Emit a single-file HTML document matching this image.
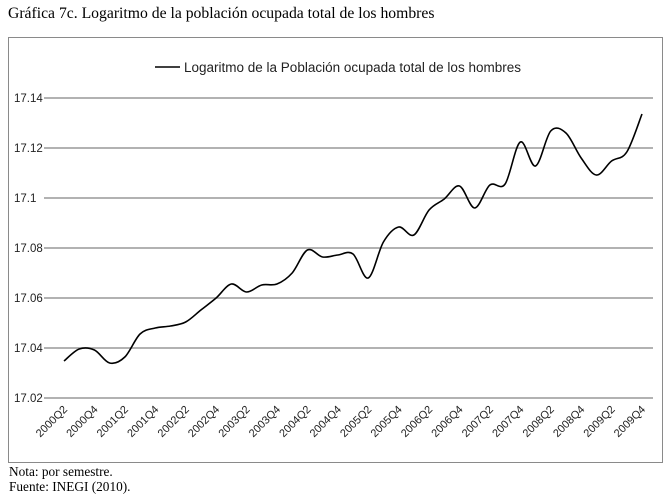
<!DOCTYPE html>
<html><head><meta charset="utf-8"><style>
body{margin:0;background:#fff;width:671px;height:500px;overflow:hidden;font-family:"Liberation Sans",sans-serif}
.t{position:absolute;font-family:"Liberation Serif",serif;color:#000}
</style></head><body>
<div class="t" style="left:8px;top:5px;font-size:15.7px">Gráfica 7c. Logaritmo de la población ocupada total de los hombres</div>
<svg width="671" height="500" style="position:absolute;left:0;top:0" id="chart">
<rect x="8.5" y="37.5" width="654" height="425" fill="none" stroke="#8a8a8a"/>
<g id="grid"></g><g id="xl"></g>
<line x1="155" y1="67" x2="180" y2="67" stroke="#000" stroke-width="1.5"/>
<text x="184" y="72" font-size="13.5" fill="#222">Logaritmo de la Población ocupada total de los hombres</text>
<path id="line" fill="none" stroke="#000" stroke-width="1.6"/>
</svg>
<div class="t" style="left:9px;top:464px;font-size:13.3px;line-height:15px">Nota: por semestre.<br>Fuente: INEGI (2010).</div>
<script>
const values=[17.0348,17.0396,17.0392,17.034,17.0364,17.0456,17.048,17.0488,17.0504,17.0552,17.06,17.0656,17.0624,17.0652,17.0656,17.07,17.0792,17.0764,17.0772,17.0776,17.068,17.0824,17.0884,17.0852,17.0952,17.0996,17.1048,17.096,17.1052,17.1056,17.1224,17.1128,17.1268,17.126,17.116,17.1092,17.1148,17.1184,17.1336];
const startYear=2000,startQ=2;
const yTicks=[17.02,17.04,17.06,17.08,17.1,17.12,17.14];
const yTickLabels=["17.02","17.04","17.06","17.08","17.1","17.12","17.14"];
const NS="http://www.w3.org/2000/svg";
const x=i=>64+i*(642-64)/(values.length-1);
const y=v=>398-(v-17.02)/0.12*300;
const grid=document.getElementById('grid');
yTicks.forEach((t,k)=>{
 const l=document.createElementNS(NS,'line');
 l.setAttribute('x1',44);l.setAttribute('x2',653);l.setAttribute('y1',y(t));l.setAttribute('y2',y(t));
 l.setAttribute('stroke','#999');l.setAttribute('stroke-width','1.5');
 
 
 grid.appendChild(l);
 const tx=document.createElementNS(NS,'text');
 tx.setAttribute('x',14);tx.setAttribute('y',y(t)+4);tx.setAttribute('font-size','11.5');tx.setAttribute('fill','#222');
 tx.textContent=yTickLabels[k];
 
 
 grid.appendChild(tx);
});
const xl=document.getElementById('xl');
for(let i=0;i<values.length;i+=2){
 const q=startQ-1+i, yr=startYear+Math.floor(q/4), qq=q%4+1;
 const tx=document.createElementNS(NS,'text');
 const px=x(i)+4,py=410;
 tx.setAttribute('x',px);tx.setAttribute('y',py);tx.setAttribute('font-size','11');tx.setAttribute('fill','#222');
 tx.setAttribute('text-anchor','end');tx.setAttribute('transform',`rotate(-45 ${px} ${py})`);
 tx.textContent=yr+'Q'+qq;
 
 
 xl.appendChild(tx);
}
const P=values.map((v,i)=>[x(i),y(v)]);
let d=`M${P[0][0]},${P[0][1]}`;
for(let i=0;i<P.length-1;i++){
 const p0=P[Math.max(i-1,0)],p1=P[i],p2=P[i+1],p3=P[Math.min(i+2,P.length-1)];
 const c1=[p1[0]+(p2[0]-p0[0])/6,p1[1]+(p2[1]-p0[1])/6],c2=[p2[0]-(p3[0]-p1[0])/6,p2[1]-(p3[1]-p1[1])/6];
 d+=` C${c1[0]},${c1[1]} ${c2[0]},${c2[1]} ${p2[0]},${p2[1]}`;
}
document.getElementById('line').setAttribute('d',d);
</script>
</body></html>
